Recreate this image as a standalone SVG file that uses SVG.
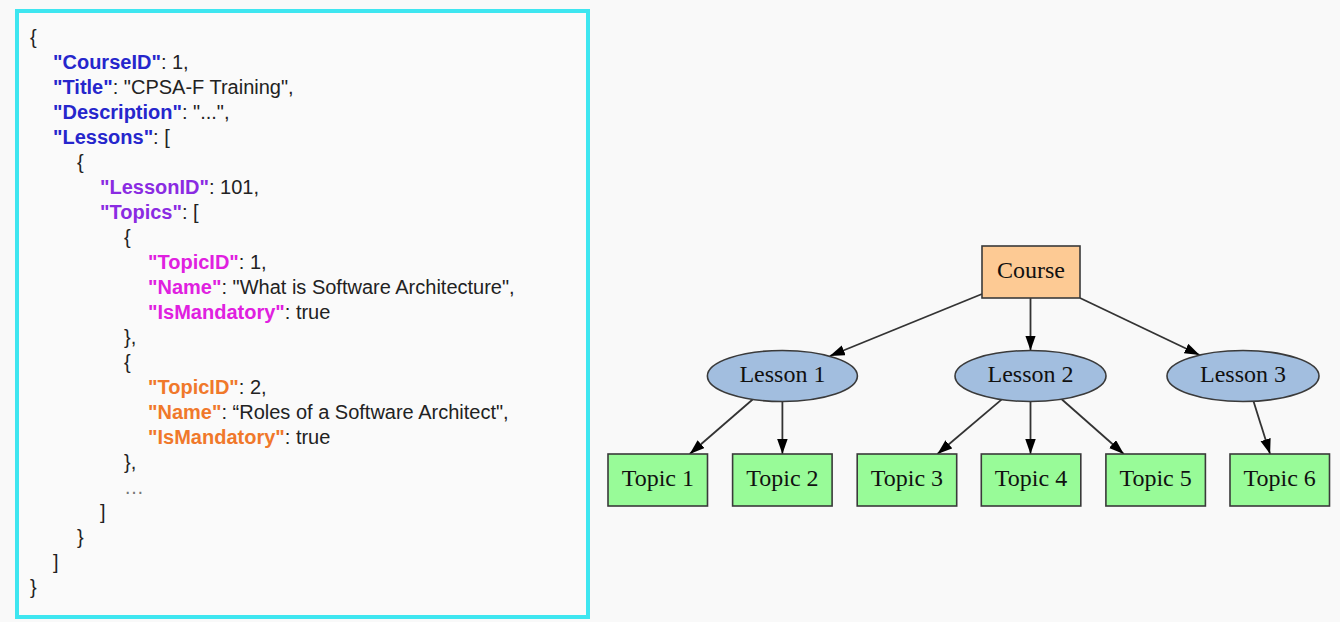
<svg xmlns="http://www.w3.org/2000/svg" width="1340" height="622" viewBox="0 0 1340 622">
<defs>
<style>
.code{font-family:"Liberation Sans",Arial,sans-serif;font-size:20px;fill:#222}
.k{font-weight:bold}
.b{fill:#2626cc}
.p{fill:#8a2be2}
.m{fill:#e020e0}
.o{fill:#f0782a}
.lbl{font-family:"Liberation Serif","Times New Roman",serif;font-size:24px;fill:#111;text-anchor:middle}
.box{stroke:#3a3a3a;stroke-width:1.6}
.course{fill:#fdca94}
.lesson{fill:#a2bedf}
.topic{fill:#98fb98}
.edge{stroke:#333;stroke-width:1.8;fill:none;marker-end:url(#arr)}
</style>
<marker id="arr" markerUnits="userSpaceOnUse" markerWidth="15" markerHeight="11" refX="15" refY="5.25" orient="auto">
<path d="M0,0 L15,5.25 L0,10.5 Z" fill="#000"/>
</marker>
</defs>
<rect width="1340" height="622" fill="#f9f9f9"/>
<g id="json">
<rect x="17" y="11" width="571" height="606" fill="#fafafa" stroke="#3ee6f0" stroke-width="4"/>
<text class="code" x="30" y="44">{</text>
<text class="code" x="53" y="69"><tspan class="k b">"CourseID"</tspan>: 1,</text>
<text class="code" x="53" y="94"><tspan class="k b">"Title"</tspan>: "CPSA-F Training",</text>
<text class="code" x="53" y="119"><tspan class="k b">"Description"</tspan>: "...",</text>
<text class="code" x="53" y="144"><tspan class="k b">"Lessons"</tspan>: [</text>
<text class="code" x="77" y="169">{</text>
<text class="code" x="100" y="194"><tspan class="k p">"LessonID"</tspan>: 101,</text>
<text class="code" x="100" y="219"><tspan class="k p">"Topics"</tspan>: [</text>
<text class="code" x="124" y="244">{</text>
<text class="code" x="148" y="269"><tspan class="k m">"TopicID"</tspan>: 1,</text>
<text class="code" x="148" y="294"><tspan class="k m">"Name"</tspan>: "What is Software Architecture",</text>
<text class="code" x="148" y="319"><tspan class="k m">"IsMandatory"</tspan>: true</text>
<text class="code" x="124" y="344">},</text>
<text class="code" x="124" y="369">{</text>
<text class="code" x="148" y="394"><tspan class="k o">"TopicID"</tspan>: 2,</text>
<text class="code" x="148" y="419"><tspan class="k o">"Name"</tspan>: “Roles of a Software Architect",</text>
<text class="code" x="148" y="444"><tspan class="k o">"IsMandatory"</tspan>: true</text>
<text class="code" x="124" y="469">},</text>
<text class="code" x="124" y="494" style="fill:#777">…</text>
<text class="code" x="100" y="519">]</text>
<text class="code" x="77" y="544">}</text>
<text class="code" x="53" y="569">]</text>
<text class="code" x="30" y="594">}</text>
</g>
<g id="connectors">
<line class="edge" x1="982" y1="294" x2="829.8" y2="356"/>
<line class="edge" x1="1030.5" y1="298" x2="1030.5" y2="350.5"/>
<line class="edge" x1="1080" y1="298" x2="1199.6" y2="355"/>
<line class="edge" x1="752.6" y1="399.5" x2="689.7" y2="454"/>
<line class="edge" x1="782.4" y1="401.5" x2="782.4" y2="454"/>
<line class="edge" x1="1001.5" y1="399.6" x2="937.4" y2="454"/>
<line class="edge" x1="1030.5" y1="401.5" x2="1030.5" y2="454"/>
<line class="edge" x1="1061.7" y1="399.3" x2="1123.8" y2="454"/>
<line class="edge" x1="1253.5" y1="401.3" x2="1270.1" y2="454"/>
</g>
<g id="course"><rect class="box course" x="982" y="246" width="98" height="52"/><text class="lbl" x="1031" y="278">Course</text></g>
<g id="lesson1"><ellipse class="box lesson" cx="782.4" cy="376" rx="75" ry="25.5"/><text class="lbl" x="782.4" y="382">Lesson 1</text></g>
<g id="lesson2"><ellipse class="box lesson" cx="1030.5" cy="376" rx="75.5" ry="25.5"/><text class="lbl" x="1030.5" y="382">Lesson 2</text></g>
<g id="lesson3"><ellipse class="box lesson" cx="1243" cy="376" rx="76" ry="25.5"/><text class="lbl" x="1243" y="382">Lesson 3</text></g>
<g id="topic1"><rect class="box topic" x="608" y="454" width="99.5" height="52"/><text class="lbl" x="657.8" y="486">Topic 1</text></g>
<g id="topic2"><rect class="box topic" x="732.6" y="454" width="99.5" height="52"/><text class="lbl" x="782.4" y="486">Topic 2</text></g>
<g id="topic3"><rect class="box topic" x="857.2" y="454" width="99.5" height="52"/><text class="lbl" x="906.9" y="486">Topic 3</text></g>
<g id="topic4"><rect class="box topic" x="981.3" y="454" width="99.5" height="52"/><text class="lbl" x="1031" y="486">Topic 4</text></g>
<g id="topic5"><rect class="box topic" x="1105.9" y="454" width="99.5" height="52"/><text class="lbl" x="1155.6" y="486">Topic 5</text></g>
<g id="topic6"><rect class="box topic" x="1230" y="454" width="99.5" height="52"/><text class="lbl" x="1279.7" y="486">Topic 6</text></g>
</svg>
